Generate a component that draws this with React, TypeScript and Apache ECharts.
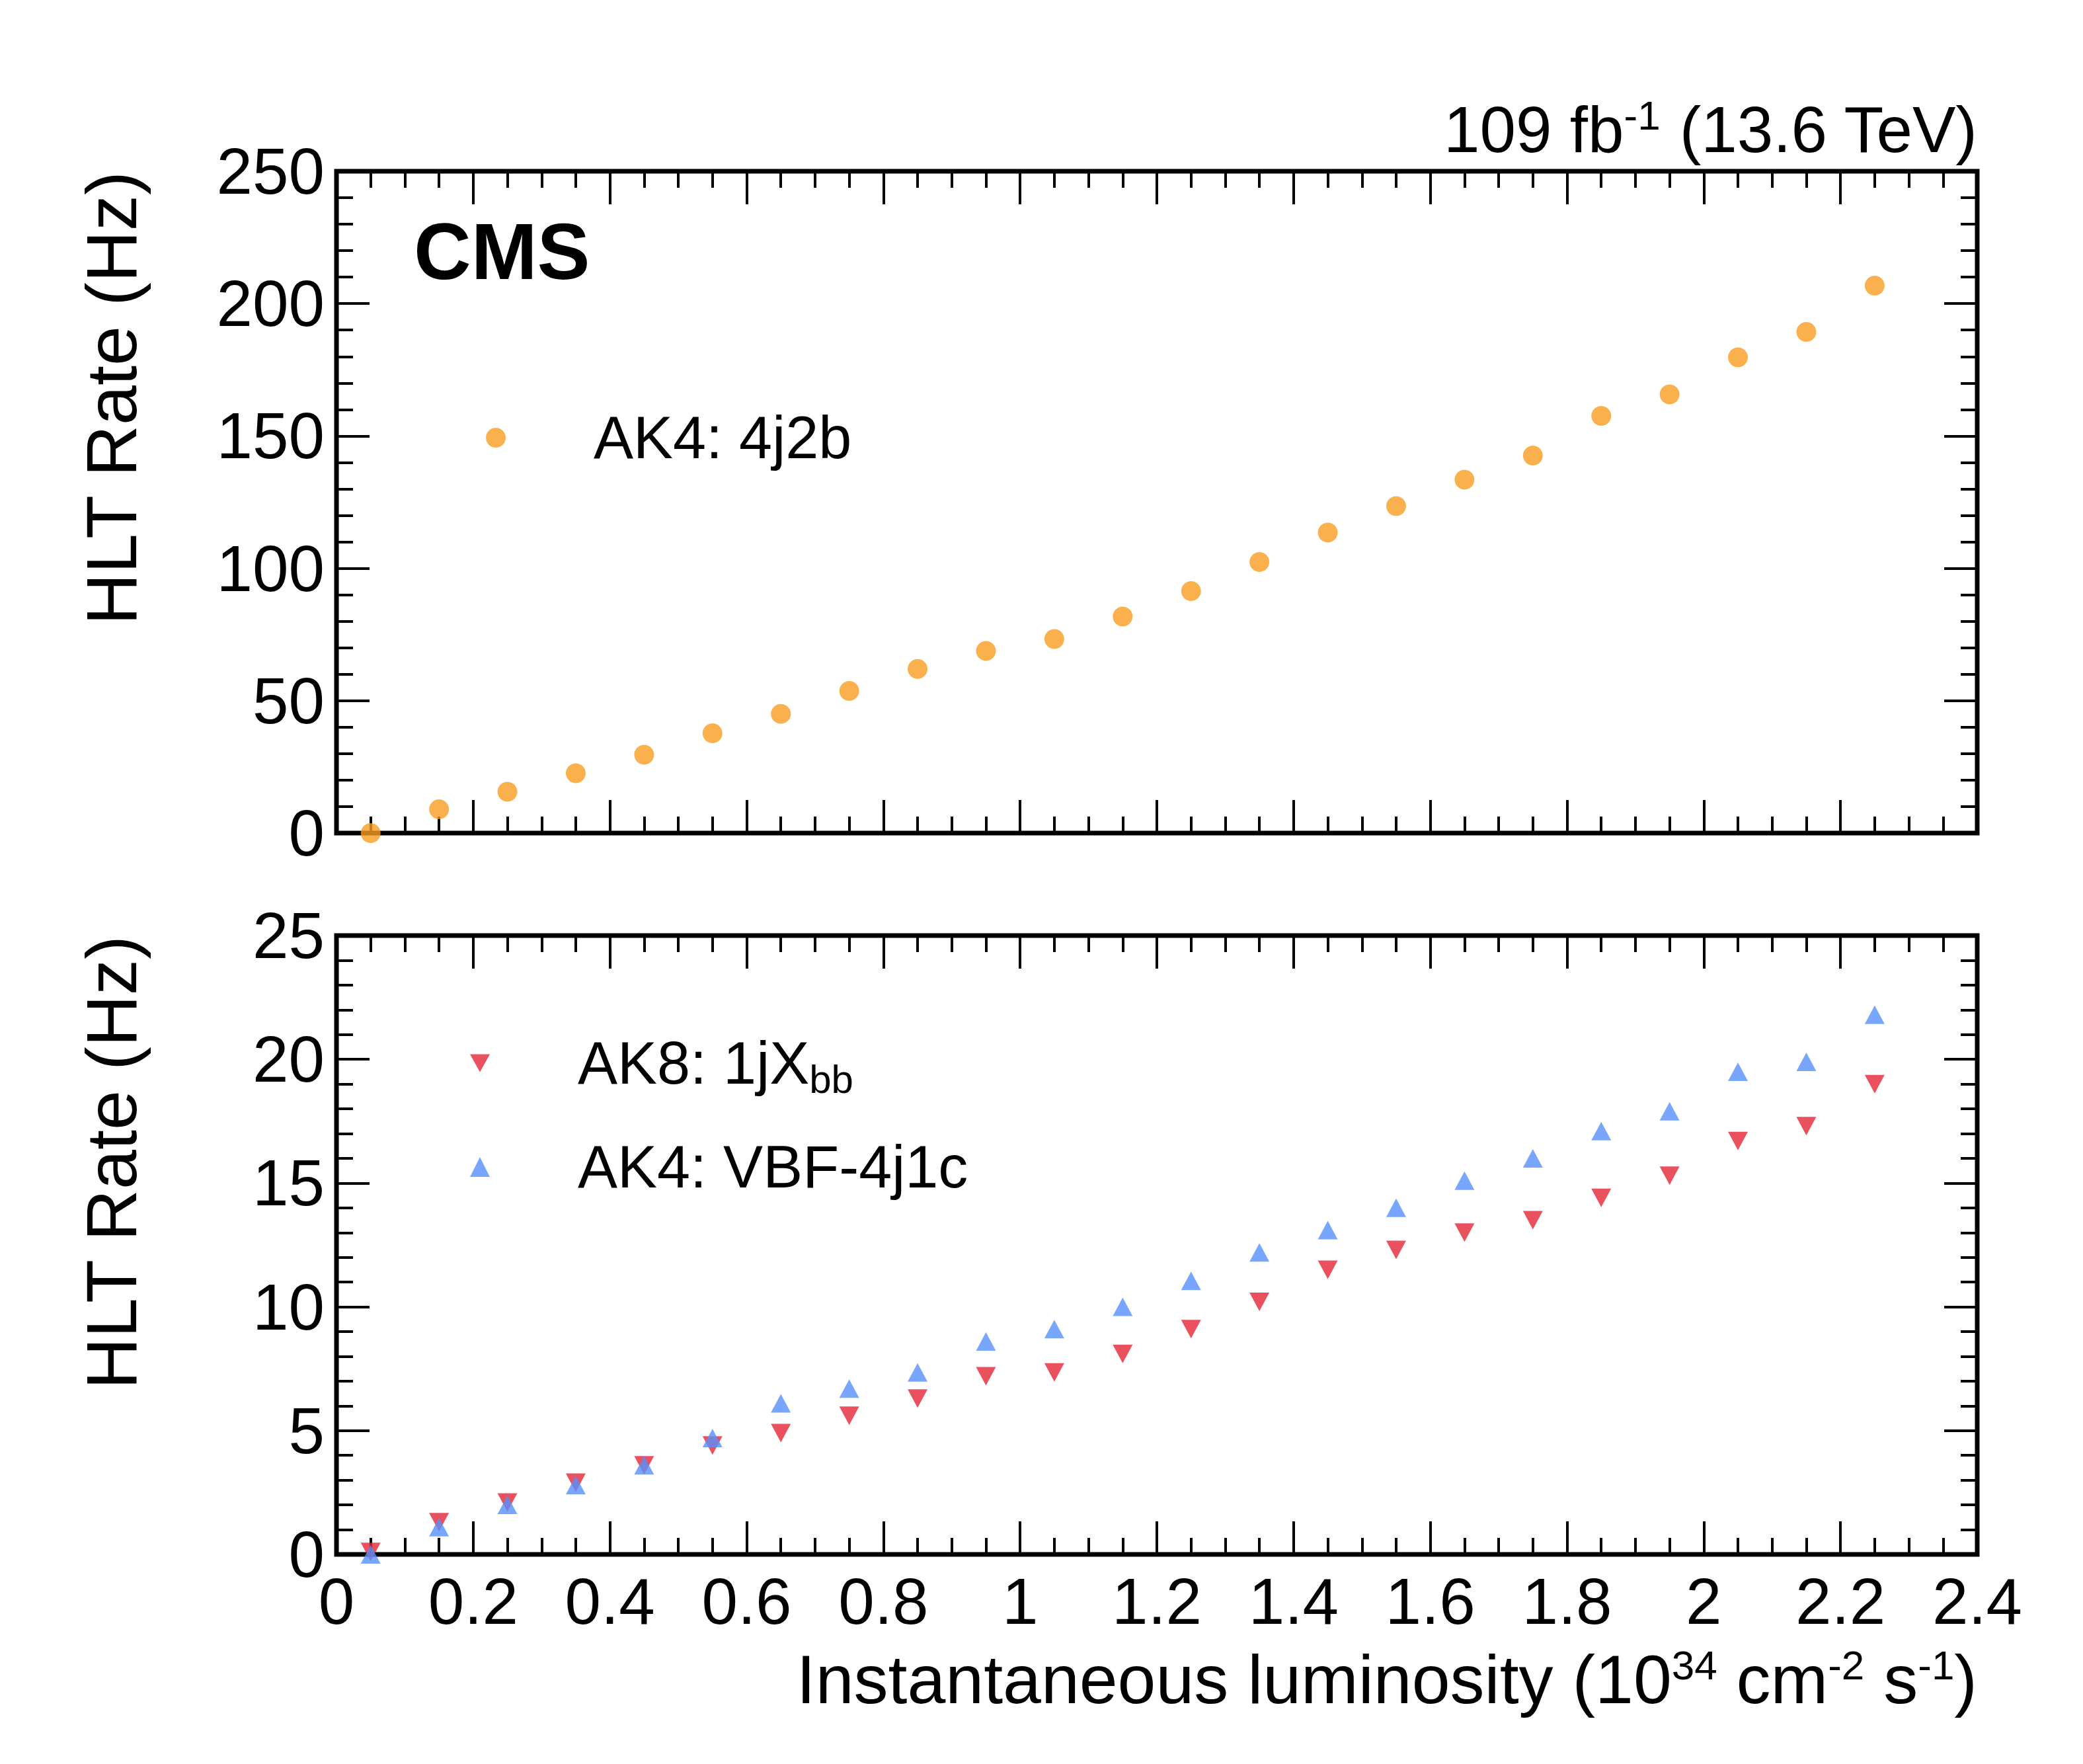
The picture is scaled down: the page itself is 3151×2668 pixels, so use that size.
import { useEffect, useRef } from "react";
import * as echarts from "echarts";

const lumi = [0.05, 0.15, 0.25, 0.35, 0.45, 0.55, 0.65, 0.75, 0.85, 0.95, 1.05, 1.15, 1.25, 1.35, 1.45, 1.55, 1.65, 1.75, 1.85, 1.95, 2.05, 2.15, 2.25];
const ak4_4j2b = [0, 9, 15.6, 22.6, 29.6, 37.7, 45, 53.7, 62, 68.8, 73.3, 81.8, 91.4, 102.4, 113.5, 123.5, 133.5, 142.6, 157.6, 165.7, 179.7, 189.3, 206.8];
const ak8_1jXbb = [0.1, 1.3, 2.1, 2.9, 3.6, 4.4, 4.9, 5.6, 6.3, 7.2, 7.35, 8.1, 9.1, 10.2, 11.5, 12.3, 13.0, 13.5, 14.4, 15.3, 16.7, 17.3, 19.0];
const ak4_vbf = [0, 1.1, 2.0, 2.8, 3.6, 4.7, 6.1, 6.7, 7.35, 8.6, 9.1, 10.0, 11.05, 12.2, 13.1, 14.0, 15.1, 16.0, 17.1, 17.9, 19.5, 19.9, 21.8];

const FONT = "Liberation Sans";
const L = 509, R = 2991;
const grids = [
  { top: 259, bottom: 1260 },
  { top: 1415, bottom: 2351 },
];
const W = 3151, H = 2668;
const DOWN_TRI = "path://M0,0 L10,0 L5,9 Z";

const pair = (ys: number[]) => lumi.map((x, i) => [x, ys[i]]);

export default function App() {
  const ref = useRef<HTMLDivElement>(null);

  useEffect(() => {
    if (!ref.current) return;
    const chart = echarts.init(ref.current, undefined, { renderer: "svg" });

    const tick = (len: number) => ({ show: true, inside: true, length: len, lineStyle: { color: "#000", width: 4 } });
    const xAx = (gi: number, pos: "bottom" | "top", labels: boolean) => ({
      type: "value", gridIndex: gi, position: pos, min: 0, max: 2.4, interval: 0.2,
      axisLine: { show: false, onZero: false },
      axisTick: tick(50),
      minorTick: { show: true, splitNumber: 4, length: 25, lineStyle: { color: "#000", width: 4 } },
      splitLine: { show: false },
      axisLabel: {
        show: labels, fontFamily: FONT, fontSize: 98, color: "#000", margin: 22,
        formatter: (v: number) => (Number.isInteger(Math.round(v * 10) / 10) ? String(Math.round(v)) : v.toFixed(1)),
      },
    });
    const yAx = (gi: number, pos: "left" | "right", max: number, iv: number, labels: boolean) => ({
      type: "value", gridIndex: gi, position: pos, min: 0, max, interval: iv,
      axisLine: { show: false, onZero: false },
      axisTick: tick(50),
      minorTick: { show: true, splitNumber: 5, length: 25, lineStyle: { color: "#000", width: 4 } },
      splitLine: { show: false },
      axisLabel: { show: labels, fontFamily: FONT, fontSize: 98, color: "#000", margin: 18 },
    });

    const legText = { fontFamily: FONT, fontSize: 90, color: "#000", padding: [0, 0, 0, 128] };
    const rich = {
      sup: { fontFamily: FONT, fontSize: 62, verticalAlign: "top", padding: [0, 0, 44, 0], color: "#000" },
      sub: { fontFamily: FONT, fontSize: 60, padding: [48, 0, 0, 0], color: "#000" },
      n: { fontFamily: FONT, fontSize: 104, color: "#000" },
    };

    chart.setOption({
      animation: false,
      backgroundColor: "#fff",
      grid: grids.map((g) => ({
        left: L, width: R - L, top: g.top, height: g.bottom - g.top,
        show: true, borderColor: "#000", borderWidth: 7, backgroundColor: "transparent",
      })),
      xAxis: [xAx(0, "bottom", false), xAx(0, "top", false), xAx(1, "bottom", true), xAx(1, "top", false)],
      yAxis: [yAx(0, "left", 250, 50, true), yAx(0, "right", 250, 50, false), yAx(1, "left", 25, 5, true), yAx(1, "right", 25, 5, false)],
      legend: [
        {
          data: ["AK4: 4j2b"], left: 730, top: 612, orient: "vertical",
          itemWidth: 30, itemHeight: 30, textStyle: legText,
        },
        {
          data: ["AK8: 1jXbb", "AK4: VBF-4j1c"], left: 706, top: 1558, orient: "vertical",
          itemWidth: 30, itemHeight: 30, itemGap: 58,
          textStyle: { ...legText, rich: { sub: rich.sub } },
          formatter: (n: string) => (n === "AK8: 1jXbb" ? "AK8: 1jX{sub|bb}" : n),
        },
      ],
      series: [
        {
          name: "AK4: 4j2b", type: "scatter", xAxisIndex: 0, yAxisIndex: 0,
          data: pair(ak4_4j2b), symbol: "circle", symbolSize: 30, itemStyle: { color: "#f89c20" },
        },
        {
          name: "AK8: 1jXbb", type: "scatter", xAxisIndex: 2, yAxisIndex: 2,
          data: pair(ak8_1jXbb), symbol: DOWN_TRI, symbolSize: [30, 28], itemStyle: { color: "#e42536" },
        },
        {
          name: "AK4: VBF-4j1c", type: "scatter", xAxisIndex: 2, yAxisIndex: 2,
          data: pair(ak4_vbf), symbol: "triangle", symbolSize: [30, 28], itemStyle: { color: "#5790fc" },
        },
      ],
      graphic: [
        { type: "text", x: 626, y: 380, style: { text: "CMS", font: `bold 120px ${FONT}`, fill: "#000", verticalAlign: "middle" } },
        {
          type: "text", x: R, y: 196,
          style: { text: "{n|109 fb}{sup|-1}{n| (13.6 TeV)}", rich: { ...rich, n: { ...rich.n, fontSize: 98 } }, align: "right", verticalAlign: "middle" },
        },
        {
          type: "text", x: R, y: 2540,
          style: { text: "{n|Instantaneous luminosity (10}{sup|34}{n| cm}{sup|-2}{n| s}{sup|-1}{n|)}", rich, align: "right", verticalAlign: "middle" },
        },
        { type: "text", x: 168, y: 259, rotation: Math.PI / 2, style: { text: "HLT Rate (Hz)", font: `108px ${FONT}`, fill: "#000", align: "right", verticalAlign: "middle" } },
        { type: "text", x: 168, y: 1415, rotation: Math.PI / 2, style: { text: "HLT Rate (Hz)", font: `108px ${FONT}`, fill: "#000", align: "right", verticalAlign: "middle" } },
      ],
    });

    return () => chart.dispose();
  }, []);

  return <div ref={ref} style={{ position: "fixed", left: 0, top: 0, width: W, height: H }} />;
}
